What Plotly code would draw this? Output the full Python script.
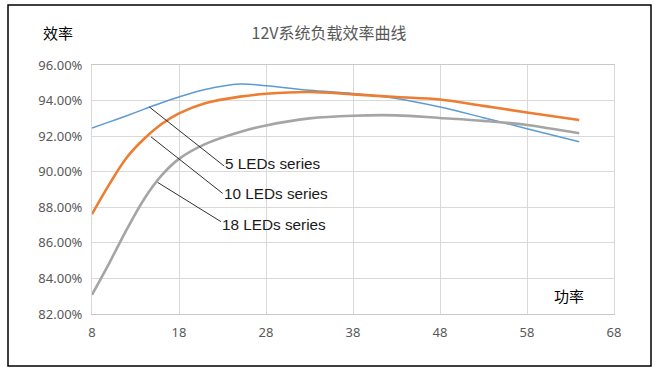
import plotly.graph_objects as go

# ---- data ----
power = [8, 10, 12, 14, 16, 18, 21, 25, 28, 33, 38, 43, 48, 53, 58, 64]
eff_5leds = [92.46, 92.80, 93.15, 93.52, 93.88, 94.20, 94.62, 94.93, 94.84, 94.58, 94.40, 94.12, 93.64, 93.04, 92.42, 91.69]
eff_10leds = [87.61, 89.30, 90.80, 91.85, 92.68, 93.28, 93.85, 94.22, 94.38, 94.48, 94.35, 94.20, 94.06, 93.70, 93.33, 92.91]
eff_18leds = [83.08, 84.88, 86.76, 88.47, 89.79, 90.72, 91.55, 92.23, 92.60, 93.00, 93.15, 93.17, 93.02, 92.86, 92.63, 92.16]
series_names = ["5 LEDs series", "10 LEDs series", "18 LEDs series"]
x_ticks = [8, 18, 28, 38, 48, 58, 68]
y_ticks = [82, 84, 86, 88, 90, 92, 94, 96]

title_text = "12V系统负载效率曲线"
y_title = "效率"
x_title = "功率"

fig = go.Figure()
colors = ["#5b9bd5", "#ed7d31", "#a5a5a5"]
widths = [1.5, 2.6, 2.6]
for name, vals, c, w in zip(series_names, [eff_5leds, eff_10leds, eff_18leds], colors, widths):
    fig.add_trace(go.Scatter(x=power, y=vals, mode="lines", name=name,
                             line=dict(color=c, width=w, shape="spline", smoothing=1.0),
                             showlegend=False))

grid_c = "#d9d9d9"
tick_font = dict(family="Noto Sans, Open Sans, sans-serif", size=13, color="#595959")
fig.update_xaxes(range=[8, 68], tickvals=x_ticks, ticktext=[str(v) for v in x_ticks],
                 showgrid=True, gridcolor=grid_c, gridwidth=1, zeroline=False,
                 showline=True, linecolor="#c8c8c8", linewidth=1, mirror=True,
                 ticks="", tickfont=tick_font, ticklabelstandoff=6)
fig.update_yaxes(range=[82, 96], tickvals=y_ticks, ticktext=[f"{v:.2f}%" for v in y_ticks],
                 showgrid=True, gridcolor=grid_c, gridwidth=1, zeroline=False,
                 showline=True, linecolor=grid_c, linewidth=1, mirror=True,
                 ticks="", tickfont=tick_font, ticklabelstandoff=6)

L, R, T, B = 92, 47, 65, 59
W, H = 661, 373
pw, ph = W - L - R, H - T - B

def px2paper_x(px):
    return (px - L) / pw

def px2paper_y(py):
    return (H - B - py) / ph

shapes = []
# outer black frame
shapes.append(dict(type="rect", xref="paper", yref="paper",
                   x0=px2paper_x(8), x1=px2paper_x(651), y0=px2paper_y(366), y1=px2paper_y(5),
                   line=dict(color="#000000", width=1.5), fillcolor="rgba(0,0,0,0)", layer="above"))

# leader lines (start on curve, end at label)
leaders = [((14.59, 93.64), (23.21, 90.31)),
           ((14.78, 91.96), (23.02, 88.78)),
           ((15.54, 89.40), (22.83, 87.19))]
for (x0, y0), (x1, y1) in leaders:
    shapes.append(dict(type="line", xref="x", yref="y", x0=x0, y0=y0, x1=x1, y1=y1,
                       line=dict(color="#303030", width=1)))

annotations = []
label_pos = [(23.0, 90.47), (22.9, 88.75), (22.75, 87.06)]
for name, (lx, ly) in zip(series_names, label_pos):
    annotations.append(dict(x=lx, y=ly, xref="x", yref="y", text=name, showarrow=False,
                            xanchor="left", yanchor="middle",
                            font=dict(family="Liberation Sans, Arial, sans-serif", size=15.3, color="#1a1a1a")))

annotations.append(dict(x=px2paper_x(57.5), y=px2paper_y(33), xref="paper", yref="paper",
                        text=y_title, showarrow=False, xanchor="center", yanchor="middle",
                        font=dict(family="Noto Sans CJK SC", size=15, color="#000000")))
annotations.append(dict(x=px2paper_x(569), y=px2paper_y(295.5), xref="paper", yref="paper",
                        text=x_title, showarrow=False, xanchor="center", yanchor="middle",
                        font=dict(family="Noto Sans CJK SC", size=15, color="#000000")))

fig.update_layout(
    width=W, height=H,
    margin=dict(l=L, r=R, t=T, b=B),
    paper_bgcolor="white", plot_bgcolor="white",
    title=dict(text=title_text, x=329 / W, xref="container", xanchor="center",
               y=1 - 33 / H, yref="container", yanchor="middle",
               font=dict(family="Noto Sans CJK SC", size=16, color="#595959")),
    shapes=shapes, annotations=annotations,
    showlegend=False,
)

fig.write_html("out.html", config={"displayModeBar": False},
               post_script="document.body.style.margin='0';document.body.style.overflow='hidden';")
